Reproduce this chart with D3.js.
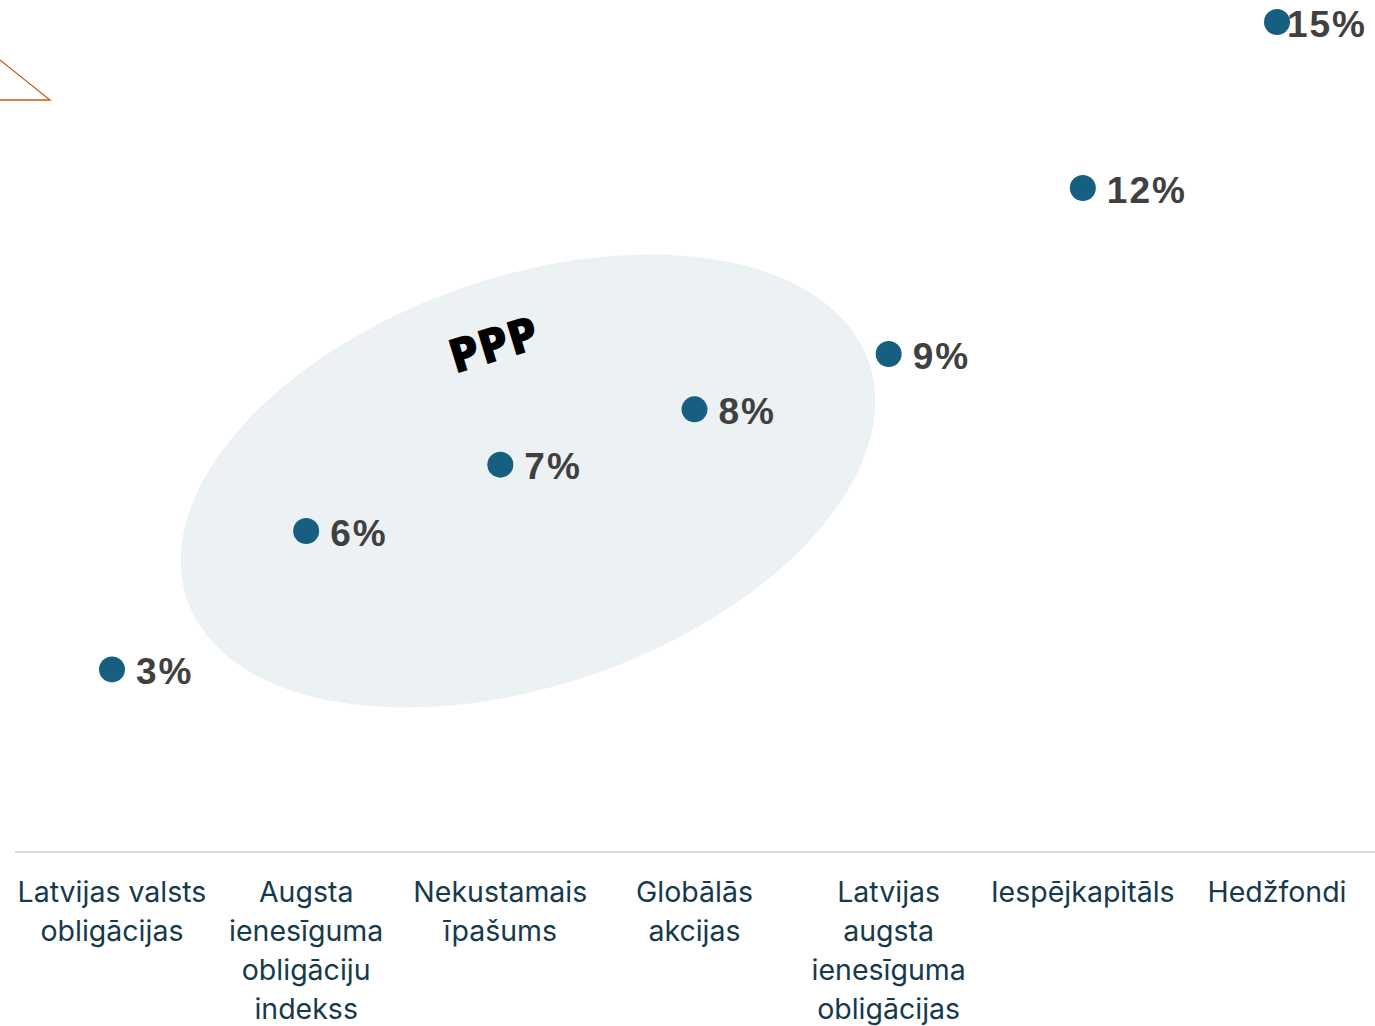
<!DOCTYPE html>
<html>
<head>
<meta charset="utf-8">
<script src="https://cdn.jsdelivr.net/npm/d3@7"></script>
<style>
  body { margin: 0; background: #fff; }
  svg { display: block; }
</style>
</head>
<body>
<div id="chart"></div>
<script>
// asset classes (x axis), one label line per array item
const categories = [
  ["Latvijas valsts", "obligācijas"],
  ["Augsta", "ienesīguma", "obligāciju", "indekss"],
  ["Nekustamais", "īpašums"],
  ["Globālās", "akcijas"],
  ["Latvijas", "augsta", "ienesīguma", "obligācijas"],
  ["Iespējkapitāls"],
  ["Hedžfondi"]
]
// expected return, % (vertical position)
const returns = [3.3, 5.8, 7.0, 8.0, 9.0, 12.0, 15.0]
const group_label = "PPP"

const width = 1375
const height = 1026

const svg = d3.select("#chart")
  .append("svg")
  .attr("width", width)
  .attr("height", height)

const x = d3.scalePoint()
  .domain(d3.range(categories.length))
  .range([112, 1277])

const y = d3.scaleLinear()
  .domain([0, 15])
  .range([852, 22])

// orange corner shape (cut off by the page edge)
svg.append("path")
  .attr("d", "M-10,52 L50,100 L-10,100")
  .style("fill", "none")
  .attr("stroke", "#c55a11")
  .style("stroke-width", 1.3)

// shaded ellipse round the PPP group
svg.append("ellipse")
  .attr("cx", 528)
  .attr("cy", 481)
  .attr("rx", 361)
  .attr("ry", 204)
  .attr("transform", "rotate(-19.3 528 481)")
  .style("fill", "#ecf1f4")

svg.append("text")
  .attr("transform", "translate(493,343) rotate(-17)")
  .attr("text-anchor", "middle")
  .attr("dominant-baseline", "central")
  .style("font-family", "'Open Sans', sans-serif")
  .style("font-weight", "800")
  .style("font-size", "48px")
  .style("fill", "#000")
  .text(group_label)

// axis line
svg.append("line")
  .attr("x1", 15)
  .attr("x2", width)
  .attr("y1", y(0))
  .attr("y2", y(0))
  .attr("stroke", "#d9d9d9")
  .style("stroke-width", 2)

// category labels
const labels = svg.selectAll("text.cat")
  .data(categories)
  .join("text")
  .attr("class", "cat")
  .attr("text-anchor", "middle")
  .style("font-family", "Inter, 'Noto Sans', sans-serif")
  .style("font-size", "28.5px")
  .style("fill", "#163a4c")

labels.selectAll("tspan")
  .data((d, i) => d.map(line => ({ line, i })))
  .join("tspan")
  .attr("x", d => x(d.i))
  .attr("y", (d, j) => 902 + j * 39)
  .text(d => d.line)

// points
svg.selectAll("circle.pt")
  .data(returns)
  .join("circle")
  .attr("class", "pt")
  .attr("cx", (d, i) => x(i))
  .attr("cy", d => y(d))
  .attr("r", 13)
  .style("fill", "#175f80")

// value labels, kept inside the page on the right
const vals = svg.selectAll("text.val")
  .data(returns)
  .join("text")
  .attr("class", "val")
  .attr("dominant-baseline", "central")
  .style("font-family", "'Liberation Sans', Arial, sans-serif")
  .style("font-weight", "700")
  .style("font-size", "37px")
  .style("letter-spacing", "2px")
  .style("fill", "#404040")
  .attr("y", d => y(d) + 2)
  .text(d => Math.round(d) + "%")

vals.each(function (d, i) {
  const w = this.getComputedTextLength()
  const lx = Math.min(x(i) + 24, width - 8 - w)
  d3.select(this).attr("x", lx)
})
</script>
</body>
</html>
